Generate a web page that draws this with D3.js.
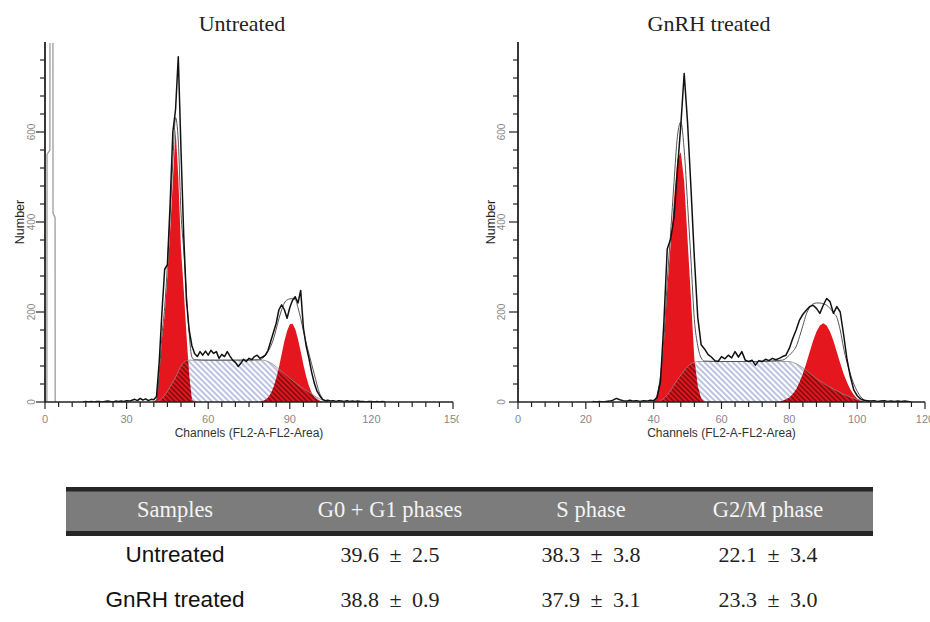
<!DOCTYPE html>
<html><head><meta charset="utf-8">
<script src="https://cdn.jsdelivr.net/npm/d3@7/dist/d3.min.js"></script>
<style>body{margin:0;background:#fff}svg{display:block}</style>
</head><body><svg id="c" width="930" height="622"></svg>
<script>
// ---------------- DATA ----------------
const panelTitles = ["Untreated", "GnRH treated"];
const xAxisLabel = "Channels (FL2-A-FL2-Area)";
const yAxisLabel = "Number";
const xTicksUntreated = [0, 30, 60, 90, 120, 150];
const xTicksGnRH = [0, 20, 40, 60, 80, 100, 120];
const yTicks = [0, 200, 400, 600];

// raw histogram counts, one value per channel starting at the given channel
const rawStartUntreated = 14;
const rawUntreated = [0,1,0,1,0,1,1,0,1,2, 1,0,2,1,2,1,3,2,4,6, 3,8,4,7,3,6,5,12,90,200,
  295,305,440,600,650,767,560,370,225,160, 125,108,101,112,104,113,104,115,108,112,
  97,106,101,112,102,93,88,79,86,95, 90,97,94,101,104,97,100,104,115,135,
  155,175,205,216,205,186,210,226,234,220, 248,165,125,98,67,42,24,14,6,3,
  4,2,3,1,3,2,1,3,1,2, 1,2,1,1,0,1,1,0,1,0, 1,0];
const rawStartGnRH = 22;
const rawGnRH = [1,0,1,0,1,2,4,8,5,3, 2,4,2,3,1,3,2,4,3,10,
  45,175,340,362,410,515,615,730,620,475, 320,188,127,118,106,100,92,90,101,96,
  104,98,112,100,112,93,90,93,82,92, 90,95,92,97,94,97,101,104,119,141,
  160,182,195,204,212,215,208,197,215,230, 223,197,212,200,150,95,56,27,14,7,
  4,3,2,3,1,2,3,1,2,1, 2,1,2,1,0];

// debris spike near channel 0 (untreated only)
const debrisUntreated = [[0.7,0],[0.75,550],[1.8,560],[1.85,1000],[2.9,1000],[2.95,420],[3.7,410],[3.75,0]];

// model components [channel, count]
const g1Untreated = [[40,0],[41,5],[42,60],[43,140],[44,195],[45,280],[46,380],[47,490],[48,608],[49,500],[50,340],[51,250],[52,150],[53,60],[54,5],[55,0]];
const sUntreated = [[41,0],[42,3],[43,8],[44,15],[45,24],[46,34],[47,44],[48,55],[49,68],[50,80],[51,88],[52,92],[53,93],[80,93],[81,92],[82,90],[83,87],[84,83],[85,78],[86,73],[87,68],[88,63],[89,58],[90,53],[91,48],[92,43],[93,38],[94,34],[95,30],[96,26],[97,22],[98,18],[99,14],[100,10],[101,7],[102,4],[103,2],[104,0]];
const g2Untreated = [[79,0],[80,2],[81,5],[82,10],[83,19],[84,33],[85,52],[86,77],[87,106],[88,135],[89,158],[90,173],[91,174],[92,162],[93,140],[94,112],[95,83],[96,57],[97,36],[98,21],[99,11],[100,6],[101,3],[102,0]];
const fitUntreated = [[40,0],[41,5],[42,63],[43,148],[44,210],[45,304],[46,414],[47,534],[48,632],[49,580],[50,420],[51,338],[52,242],[53,153],[54,100],[55,94],[60,93],[70,93],[79,94],[80,97],[81,103],[82,112],[83,124],[84,140],[85,162],[86,185],[87,205],[88,220],[89,227],[90,229],[91,230],[92,228],[93,210],[94,186],[95,158],[96,132],[97,108],[98,85],[99,62],[100,38],[101,19],[102,8],[103,3],[104,0]];

const g1GnRH = [[40,0],[41,15],[42,55],[43,130],[44,250],[45,350],[46,450],[47,540],[48,555],[49,490],[50,360],[51,230],[52,95],[53,35],[54,8],[55,0]];
const sGnRH = [[41,0],[42,3],[43,8],[44,16],[45,26],[46,38],[47,50],[48,60],[49,70],[50,79],[51,85],[52,88],[53,90],[80,90],[81,88],[82,85],[83,81],[84,76],[85,70],[86,64],[87,58],[88,52],[89,47],[90,42],[91,37],[92,33],[93,29],[94,25],[95,21],[96,17],[97,14],[98,11],[99,8],[100,6],[101,4],[102,2],[103,1],[104,0]];
const g2GnRH = [[77,0],[78,3],[79,6],[80,10],[81,18],[82,28],[83,44],[84,63],[85,86],[86,111],[87,136],[88,156],[89,170],[90,175],[91,170],[92,156],[93,136],[94,111],[95,86],[96,63],[97,44],[98,28],[99,16],[100,8],[101,3],[102,0]];
const fitGnRH = [[40,0],[41,15],[42,58],[43,138],[44,266],[45,376],[46,488],[47,590],[48,622],[49,560],[50,439],[51,315],[52,183],[53,125],[54,98],[55,91],[60,90],[70,90],[78,93],[79,97],[80,104],[81,112],[82,123],[83,145],[84,170],[85,195],[86,210],[87,218],[88,220],[89,220],[90,218],[91,215],[92,208],[93,198],[94,188],[95,160],[96,120],[97,88],[98,62],[99,40],[100,24],[101,12],[102,5],[103,2],[104,0]];

// table
const tableHeaders = ["Samples", "G0 + G1 phases", "S phase", "G2/M phase"];
const tableSamples = ["Untreated", "GnRH treated"];
const g0g1Mean = [39.6, 38.8], g0g1Sd = [2.5, 0.9];
const sMean = [38.3, 37.9], sSd = [3.8, 3.1];
const g2mMean = [22.1, 23.3], g2mSd = [3.4, 3.0];

// ---------------- DRAW ----------------
const svg = d3.select("#c");
const defs = svg.append("defs");
function hatch(id, color, spacing, width) {
  const p = defs.append("pattern").attr("id", id).attr("patternUnits", "userSpaceOnUse")
    .attr("width", spacing).attr("height", spacing).attr("patternTransform", "rotate(-45)");
  p.append("line").attr("x1", spacing/2).attr("y1", 0).attr("x2", spacing/2).attr("y2", spacing)
    .attr("stroke", color).attr("stroke-width", width);
}
hatch("hBlue", "#8490c8", 4, 1.1);
hatch("hDark", "#3a0606", 3.6, 1);

const RED = "#e6161e";
const sans = "Arial, 'Liberation Sans', Helvetica, sans-serif";
const serif = "'Liberation Serif', 'Times New Roman', Times, serif";

const panels = [
  {title: panelTitles[0], raw: rawUntreated, rawStart: rawStartUntreated, g1: g1Untreated, s: sUntreated, g2: g2Untreated, fit: fitUntreated, debris: debrisUntreated,
   xMax: 150, ticks: xTicksUntreated, minor: 5, x0: 45, x1: 453, titleX: 242, clipX0: 0, clipX1: 459, yLabOff: 10, numOff: 21},
  {title: panelTitles[1], raw: rawGnRH, rawStart: rawStartGnRH, g1: g1GnRH, s: sGnRH, g2: g2GnRH, fit: fitGnRH, debris: null,
   xMax: 120, ticks: xTicksGnRH, minor: 4, x0: 518, x1: 925, titleX: 709, clipX0: 460, clipX1: 930, yLabOff: 13, numOff: 23}
];

const yBase = 402, yTop = 42;
const y = d3.scaleLinear().domain([0, 800]).range([yBase, yTop]);

panels.forEach((p, i) => {
  defs.append("clipPath").attr("id", "panel" + i).append("rect")
    .attr("x", p.clipX0).attr("y", 0).attr("width", p.clipX1 - p.clipX0).attr("height", 470);
  defs.append("clipPath").attr("id", "plot" + i).append("rect")
    .attr("x", p.x0).attr("y", yTop + 1).attr("width", p.x1 - p.x0).attr("height", yBase - yTop - 1);

  const g = svg.append("g").attr("clip-path", `url(#panel${i})`);
  const x = d3.scaleLinear().domain([0, p.xMax]).range([p.x0, p.x1]);

  const area = d3.area().x(d => x(d[0])).y0(y(0)).y1(d => y(d[1]));
  const areaSmooth = d3.area().x(d => x(d[0])).y0(y(0)).y1(d => y(d[1])).curve(d3.curveMonotoneX);
  const lineSmooth = d3.line().x(d => x(d[0])).y(d => y(d[1])).curve(d3.curveMonotoneX);
  const line = d3.line().x(d => x(d[0])).y(d => y(d[1]));

  const plot = g.append("g").attr("clip-path", `url(#plot${i})`);

  plot.append("path").attr("d", areaSmooth(p.s)).attr("fill", "url(#hBlue)");
  plot.append("path").attr("d", area(p.g1)).attr("fill", RED);
  plot.append("path").attr("d", area(p.g2)).attr("fill", RED);
  const cp = defs.append("clipPath").attr("id", "peaks" + i);
  cp.append("path").attr("d", area(p.g1));
  cp.append("path").attr("d", area(p.g2));
  plot.append("g").attr("clip-path", `url(#peaks${i})`)
    .append("path").attr("d", areaSmooth(p.s)).attr("fill", "url(#hDark)");
  plot.append("path").attr("d", lineSmooth(p.s)).attr("fill", "none").attr("stroke", "#8a8a8a").attr("stroke-width", 0.8);
  plot.append("path").attr("d", lineSmooth(p.fit)).attr("fill", "none").attr("stroke", "#555").attr("stroke-width", 1);
  const rawPts = p.raw.map((v, k) => [p.rawStart + k, v]);
  plot.append("path").attr("d", line(rawPts)).attr("fill", "none").attr("stroke", "#111")
    .attr("stroke-width", 1.5).attr("stroke-linejoin", "round");
  if (p.debris) {
    plot.append("path").attr("d", line(p.debris)).attr("fill", "none").attr("stroke", "#9c9c9c").attr("stroke-width", 1.3);
  }

  g.append("line").attr("x1", p.x0).attr("x2", p.x0).attr("y1", yTop).attr("y2", yBase + 0.5)
    .attr("stroke", "#222").attr("stroke-width", 1.8);
  g.append("line").attr("x1", p.x0).attr("x2", p.x1).attr("y1", yBase).attr("y2", yBase)
    .attr("stroke", "#222").attr("stroke-width", 1.5);
  d3.range(0, 800, 40).forEach(v => {
    const major = yTicks.includes(v);
    g.append("line").attr("x1", p.x0 - (major ? 9 : 5)).attr("x2", p.x0).attr("y1", y(v)).attr("y2", y(v))
      .attr("stroke", "#222").attr("stroke-width", 1.2);
  });
  yTicks.forEach(v => {
    g.append("text").attr("transform", `translate(${p.x0 - p.yLabOff},${y(v)}) rotate(-90)`)
      .attr("text-anchor", "middle").attr("font-family", sans).attr("font-size", 10).attr("fill", "#888").text(v);
  });
  d3.range(0, p.xMax + 0.001, p.minor).forEach(v => {
    const major = p.ticks.includes(v);
    g.append("line").attr("x1", x(v)).attr("x2", x(v)).attr("y1", yBase).attr("y2", yBase + (major ? 7 : 5))
      .attr("stroke", "#222").attr("stroke-width", 1.2);
  });
  p.ticks.forEach(v => {
    g.append("text").attr("x", x(v)).attr("y", 423).attr("text-anchor", "middle")
      .attr("font-family", sans).attr("font-size", 11).attr("fill", "#888").text(v);
  });
  g.append("text").attr("x", (p.x0 + p.x1) / 2).attr("y", 437).attr("text-anchor", "middle")
    .attr("font-family", sans).attr("font-size", 12).attr("fill", "#333").text(xAxisLabel);
  g.append("text").attr("transform", `translate(${p.x0 - p.numOff},${222}) rotate(-90)`)
    .attr("text-anchor", "middle").attr("font-family", sans).attr("font-size", 12.5).attr("fill", "#222").text(yAxisLabel);
  g.append("text").attr("x", p.titleX).attr("y", 31).attr("text-anchor", "middle")
    .attr("font-family", serif).attr("font-size", 22).attr("fill", "#222").text(p.title);
});

// ---------------- TABLE ----------------
const tx0 = 66, tx1 = 873;
const colX = [175, 390, 591, 768];
const t = svg.append("g");
t.append("rect").attr("x", tx0).attr("y", 487).attr("width", tx1 - tx0).attr("height", 49).attr("fill", "#7c7c7c");
t.append("rect").attr("x", tx0).attr("y", 487).attr("width", tx1 - tx0).attr("height", 4.5).attr("fill", "#262626");
t.append("rect").attr("x", tx0).attr("y", 531).attr("width", tx1 - tx0).attr("height", 5).attr("fill", "#262626");
tableHeaders.forEach((h, k) => {
  t.append("text").attr("x", colX[k]).attr("y", 517).attr("text-anchor", "middle")
    .attr("font-family", serif).attr("font-size", 22.5).attr("fill", "#f4f4f4").text(h);
});
const fmt = (m, s) => `${m.toFixed(1)} \u00B1 ${s.toFixed(1)}`;
const rowY = [562, 607];
tableSamples.forEach((name, r) => {
  t.append("text").attr("x", colX[0]).attr("y", rowY[r]).attr("text-anchor", "middle")
    .attr("font-family", sans).attr("font-size", 22.5).attr("fill", "#111").text(name);
  [[g0g1Mean, g0g1Sd], [sMean, sSd], [g2mMean, g2mSd]].forEach(([m, s], c) => {
    t.append("text").attr("x", colX[c + 1]).attr("y", rowY[r]).attr("text-anchor", "middle")
      .attr("font-family", serif).attr("font-size", 22).attr("word-spacing", 5).attr("fill", "#222").text(fmt(m[r], s[r]));
  });
});
</script></body></html>
